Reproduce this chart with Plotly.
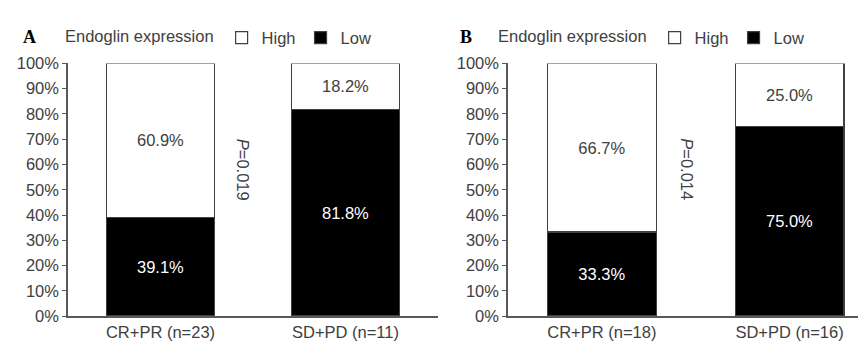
import plotly.graph_objects as go

categories_A = ["CR+PR (n=23)", "SD+PD (n=11)"]
low_A = [39.1, 81.8]
high_A = [60.9, 18.2]
p_A = "<i>P</i>=0.019"

categories_B = ["CR+PR (n=18)", "SD+PD (n=16)"]
low_B = [33.3, 75.0]
high_B = [66.7, 25.0]
p_B = "<i>P</i>=0.014"

y_ticks = list(range(0, 101, 10))
y_tick_labels = [f"{v}%" for v in y_ticks]

FONT = "Liberation Sans, Arial, sans-serif"
TXT = "#404040"
AX = "#595959"
FS = 16.5

fig = go.Figure()

def add_panel(cats, low, high, xa, ya, leg):
    fig.add_trace(go.Bar(
        x=cats, y=low, name="Low", xaxis=xa, yaxis=ya, legend=leg,
        marker=dict(color="#000000", line=dict(color="#404040", width=1.2)),
        texttemplate="%{y:.1f}%", textposition="inside", insidetextanchor="middle",
        textfont=dict(color="#ffffff", size=FS, family=FONT),
        legendrank=2,
    ))
    fig.add_trace(go.Bar(
        x=cats, y=high, name="High", xaxis=xa, yaxis=ya, legend=leg,
        marker=dict(color="#ffffff", line=dict(color="#404040", width=1.2)),
        texttemplate="%{y:.1f}%", textposition="inside", insidetextanchor="middle",
        textfont=dict(color=TXT, size=FS, family=FONT),
        legendrank=1,
    ))

add_panel(categories_A, low_A, high_A, "x", "y", "legend")
add_panel(categories_B, low_B, high_B, "x2", "y2", "legend2")

ydom = [(345 - 315.5) / 345, (345 - 49) / 345]
yax = dict(
    range=[0, 100], tickmode="array", tickvals=y_ticks, ticktext=y_tick_labels,
    showgrid=False, zeroline=False,
    showline=True, linecolor=AX, linewidth=1.5, ticks="outside", ticklen=4,
    tickcolor=AX, tickwidth=1.2, tickfont=dict(size=FS, color=TXT, family=FONT),
    domain=ydom, fixedrange=True,
)
xax = dict(
    showgrid=False, zeroline=False, showline=True, linecolor=AX, linewidth=1.5,
    ticks="", tickfont=dict(size=FS, color=TXT, family=FONT), type="category",
)

leg_common = dict(
    orientation="h", xanchor="left", yanchor="middle",
    font=dict(size=FS, color=TXT, family=FONT),
    title=dict(text="Endoglin expression", side="left", font=dict(size=FS, color=TXT, family=FONT)),
    bgcolor="rgba(0,0,0,0)", itemwidth=30, traceorder="normal",
)

fig.update_layout(
    width=866, height=345, margin=dict(l=0, r=0, t=0, b=0),
    paper_bgcolor="white", plot_bgcolor="white",
    barmode="stack", bargap=0.42,
    font=dict(family=FONT, color=TXT, size=FS),
    xaxis=dict(xax, domain=[60 / 866, 430 / 866], range=[-0.5, 1.5], anchor="y"),
    yaxis=dict(yax, anchor="x"),
    xaxis2=dict(xax, domain=[500 / 866, 1.0], range=[-0.5, 1.45], anchor="y2"),
    yaxis2=dict(yax, anchor="x2"),
    legend=dict(leg_common, x=55 / 866, y=(345 - 22) / 345),
    legend2=dict(leg_common, x=488 / 866, y=(345 - 22) / 345),
    annotations=[
        dict(text="<b>A</b>", x=13 / 866, y=(345 - 21) / 345, xref="paper", yref="paper",
             xanchor="left", yanchor="middle", showarrow=False,
             font=dict(family="Liberation Serif, Times New Roman, serif", size=18, color="#000")),
        dict(text="<b>B</b>", x=450 / 866, y=(345 - 21) / 345, xref="paper", yref="paper",
             xanchor="left", yanchor="middle", showarrow=False,
             font=dict(family="Liberation Serif, Times New Roman, serif", size=18, color="#000")),
        dict(text=p_A, x=0.45, y=58, xref="x", yref="y", textangle=90, showarrow=False,
             font=dict(size=FS, color=TXT, family=FONT)),
        dict(text=p_B, x=0.455, y=58, xref="x2", yref="y2", textangle=90, showarrow=False,
             font=dict(size=FS, color=TXT, family=FONT)),
    ],
)

fig.write_html("out.html")
